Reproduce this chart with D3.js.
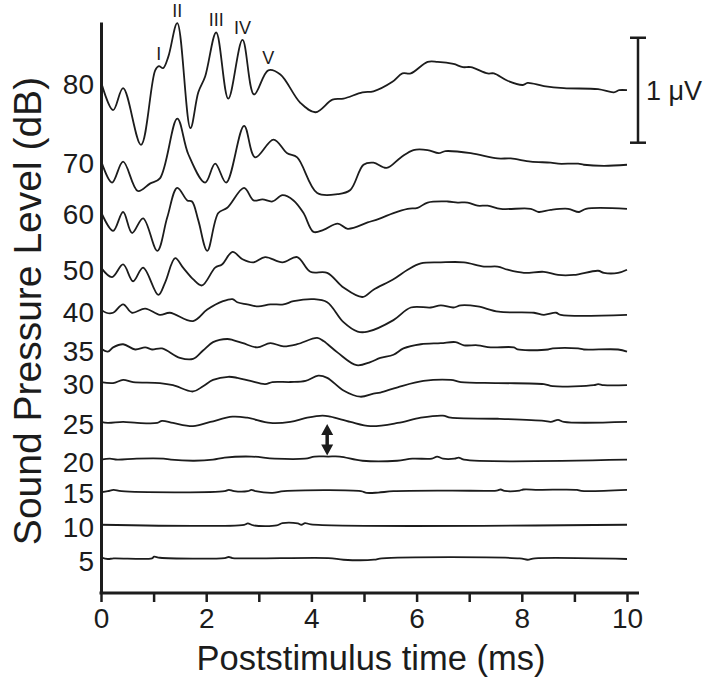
<!DOCTYPE html>
<html>
<head>
<meta charset="utf-8">
<script src="https://cdn.jsdelivr.net/npm/d3@7"></script>
<style>
  body { margin: 0; background: #fff; }
  svg { display: block; font-family: "Liberation Sans", Arial, Helvetica, sans-serif; }
</style>
</head>
<body>
<svg width="709" height="684"></svg>
<script>
// sound levels (dB) top to bottom, and where each trace sits (uV above the axis)
var levels = [80, 70, 60, 50, 40, 35, 30, 25, 20, 15, 10, 5];
var offsets = [4.87, 4.12, 3.63, 3.10, 2.70, 2.33, 2.01, 1.63, 1.27, 0.97, 0.65, 0.33];

var xTicks = [0, 1, 2, 3, 4, 5, 6, 7, 8, 9, 10];
var peakNames = ["I", "II", "III", "IV", "V"];
var peakTimes = [1.10, 1.45, 2.19, 2.69, 3.18];

// [time ms, amplitude uV]
var wave80 = [[0,0],[0.23,-0.27],[0.42,-0.06],[0.76,-0.60],[1.03,0.11],[1.10,0.15],[1.18,0.13],[1.28,0.24],[1.45,0.56],[1.70,-0.44],[1.85,-0.10],[1.98,0.05],[2.19,0.47],[2.42,-0.16],[2.69,0.40],[2.91,-0.12],[3.18,0.11],[3.41,0.07],[3.79,-0.20],[4.08,-0.29],[4.40,-0.17],[4.61,-0.16],[4.97,-0.10],[5.18,-0.09],[5.54,0],[5.73,0.08],[5.89,0.08],[6.21,0.19],[6.40,0.19],[6.70,0.17],[6.88,0.14],[7.03,0.14],[7.35,0.08],[7.47,0.08],[7.73,0.01],[8.02,-0.03],[8.11,-0.01],[8.42,-0.04],[8.80,-0.06],[9.45,-0.07],[9.75,-0.10],[9.85,-0.08],[10,-0.08]];
var wave70 = [[0,0],[0.21,-0.21],[0.42,-0.01],[0.70,-0.29],[0.93,-0.22],[1.12,-0.17],[1.45,0.40],[1.66,0.06],[1.98,-0.21],[2.17,-0.03],[2.38,-0.21],[2.72,0.33],[2.93,0.03],[3.28,0.20],[3.54,0.07],[3.73,0.03],[4.11,-0.31],[4.50,-0.32],[4.74,-0.28],[4.99,-0.04],[5.18,-0.02],[5.43,-0.07],[5.70,0.03],[5.94,0.10],[6.21,0.10],[6.42,0.07],[6.55,0.09],[7.03,0.07],[7.54,0.02],[7.79,0.02],[8.17,-0.01],[8.55,-0.02],[8.69,-0.03],[9.07,-0.03],[9.18,-0.04],[9.56,-0.05],[10,-0.04]];
var wave60 = [[0,0],[0.23,-0.18],[0.42,0],[0.59,-0.20],[0.80,-0.06],[1.07,-0.37],[1.26,-0.05],[1.45,0.23],[1.64,0.11],[1.73,0.10],[1.85,-0.08],[2.02,-0.37],[2.23,-0.01],[2.40,0.04],[2.72,0.23],[2.90,0.11],[3.07,0.12],[3.26,0.10],[3.45,0.16],[3.66,0.11],[3.85,-0.01],[4.04,-0.19],[4.23,-0.17],[4.50,-0.11],[4.69,-0.16],[5.07,-0.10],[5.31,-0.06],[5.56,-0.01],[5.83,0.03],[6.02,0.04],[6.21,0.09],[6.59,0.10],[6.78,0.09],[6.97,0.09],[7.16,0.06],[7.35,0.06],[7.60,0.03],[8.17,0.03],[8.32,0],[8.55,0.02],[8.88,0.03],[9.09,0],[9.22,0.03],[10,0.03]];
var wave50 = [[0,0],[0.21,-0.09],[0.42,0.03],[0.61,-0.13],[0.80,0],[1.09,-0.26],[1.22,-0.14],[1.41,0.09],[1.56,0],[1.75,-0.11],[1.92,-0.17],[2.17,0],[2.30,0.03],[2.50,0.15],[2.69,0.08],[2.90,0.05],[3.12,0.10],[3.45,0.05],[3.73,0.10],[3.98,-0.04],[4.30,-0.05],[4.61,-0.19],[4.97,-0.28],[5.18,-0.21],[5.56,-0.11],[5.83,-0.02],[6.08,0.04],[6.46,0.05],[6.90,0.05],[7.28,0.01],[7.54,0.01],[7.73,-0.02],[8.04,-0.05],[8.42,-0.04],[8.69,-0.07],[8.99,-0.07],[9.45,-0.03],[9.56,-0.05],[9.83,-0.05],[10,-0.02]];
var wave40 = [[0,0],[0.10,-0.03],[0.23,-0.03],[0.42,0.05],[0.59,-0.03],[0.84,0.01],[1.12,-0.05],[1.31,-0.03],[1.75,-0.11],[2.02,0],[2.32,0.08],[2.50,0.10],[2.59,0.07],[2.78,0.05],[2.99,0.03],[3.22,0.05],[3.47,0.05],[3.66,0.08],[4.04,0.10],[4.30,0.07],[4.61,-0.12],[4.88,-0.21],[5.07,-0.21],[5.56,-0.10],[5.89,0.02],[6.27,0.02],[6.46,0.04],[6.70,0.02],[6.84,0.04],[7.16,0.03],[7.56,-0.02],[8.23,-0.03],[8.42,-0.05],[8.65,-0.03],[8.74,-0.05],[10,-0.05]];
var wave35 = [[0,0],[0.13,-0.03],[0.23,0.01],[0.42,0.04],[0.65,-0.01],[0.84,0.01],[0.97,-0.01],[1.16,0],[1.50,-0.09],[1.75,-0.10],[1.94,-0.02],[2.13,0.06],[2.40,0.09],[2.51,0.08],[2.70,0.05],[2.97,0.01],[3.22,0.05],[3.47,0.02],[3.73,0.04],[4.11,0.10],[4.23,0.07],[4.50,-0.04],[4.86,-0.16],[5.12,-0.13],[5.31,-0.09],[5.56,-0.06],[5.75,0],[6.08,0.04],[6.46,0.05],[6.74,0.06],[6.90,0.03],[7.16,0.03],[7.41,0.01],[7.85,0.01],[7.92,-0.01],[8.50,-0.01],[8.59,0],[9.07,0],[9.18,-0.01],[9.83,-0.01],[10,-0.03]];
var wave30 = [[0,0],[0.23,-0.01],[0.42,0.02],[0.61,0],[1.12,-0.01],[1.37,-0.03],[1.75,-0.09],[1.94,-0.04],[2.13,0.02],[2.42,0.05],[2.59,0.04],[2.84,0.01],[3.12,-0.02],[3.26,0],[3.60,0],[3.89,0.01],[4.13,0.06],[4.30,0.04],[4.61,-0.08],[4.93,-0.14],[5.18,-0.11],[5.31,-0.10],[5.64,-0.05],[6.13,0.01],[6.65,0.02],[6.84,0],[7.54,-0.01],[8.42,-0.02],[8.59,-0.04],[9.37,-0.03],[9.45,-0.02],[9.56,-0.03],[10,-0.03]];
var wave25 = [[0,0],[0.13,-0.01],[0.42,0],[0.69,-0.01],[1.07,-0.01],[1.16,0.01],[1.37,-0.01],[1.75,-0.04],[2.08,0],[2.50,0.05],[2.78,0.04],[3.22,-0.01],[3.60,0],[3.92,0.04],[4.21,0.06],[4.36,0.05],[4.74,0],[5.12,-0.04],[5.64,-0.01],[6.08,0.04],[6.50,0.06],[6.65,0.04],[7.54,0.03],[8.42,0.01],[8.55,0],[8.69,0.02],[8.80,0],[10,0]];
var wave20 = [[0,0],[0.17,0.01],[0.31,0],[0.68,0.01],[1.19,0.01],[1.33,0],[1.77,-0.01],[2.13,0],[2.35,0.02],[2.86,0.03],[3.30,0.01],[3.88,0.01],[4.06,0.03],[4.32,0.03],[4.54,0.03],[4.97,-0.01],[5.63,-0.01],[5.92,0.01],[6.29,0.01],[6.39,0.03],[6.50,0.01],[6.72,0.01],[6.80,0.02],[6.90,0],[10,0]];
var wave15 = [[0,-0.01],[0.13,0],[0.24,0.013],[0.39,0],[2.35,0],[2.43,0.013],[2.53,0],[2.79,0],[2.86,0.013],[2.94,0],[3.26,-0.016],[3.48,0],[4.94,0],[5.05,-0.016],[5.27,-0.013],[5.56,0],[6.65,0.006],[7.52,0.006],[7.60,0.016],[7.67,0.003],[7.96,0.006],[8.03,0.016],[8.32,0.013],[9.05,0.013],[9.13,0.003],[10,0.013]];
var wave10 = [[0,0],[2.72,0],[2.79,0.013],[2.90,-0.006],[3.34,-0.006],[3.45,0.016],[3.74,0.013],[3.81,0],[3.88,0.016],[3.99,0.003],[10,0]];
var wave5 = [[0,0.01],[0.13,-0.006],[0.24,0],[0.97,0],[1.01,0.016],[1.12,0.006],[2.35,0.003],[2.43,0.013],[2.50,0.003],[4.32,0.003],[4.61,-0.013],[5.19,-0.013],[5.34,0],[7.96,0],[8.11,-0.013],[8.25,0],[10,-0.006]];

var waves = [wave80, wave70, wave60, wave50, wave40, wave35, wave30, wave25, wave20, wave15, wave10, wave5];

// 1 uV scale bar, and the threshold arrow between 25 and 20 dB
var scaleBarBase = 4.29;
var arrowTime = 4.3;
var arrowTop = 1.61, arrowBottom = 1.31;

var svg = d3.select("svg");
var ink = "#1c1c1c";

var x = d3.scaleLinear().domain([0, 10]).range([101, 627]);
var y = d3.scaleLinear().domain([0, 5.44]).range([593, 22]);

var g = svg.append("g");

// traces
var line = d3.line()
    .x(function (d) { return x(d[0]); })
    .y(function (d) { return y(d[1] + d.off); })
    .curve(d3.curveCatmullRom.alpha(0.5));

waves.forEach(function (w, i) {
  var pts = w.map(function (p) { var q = [p[0], p[1]]; q.off = offsets[i]; return q; });
  g.append("path")
      .datum(pts)
      .attr("fill", "none")
      .attr("stroke", ink)
      .attr("stroke-width", 1.8)
      .attr("stroke-linejoin", "round")
      .attr("d", line);
});

// x axis
var xAxis = g.append("g")
    .attr("transform", "translate(0," + y(0) + ")")
    .call(d3.axisBottom(x).tickValues(xTicks).tickSize(9).tickSizeOuter(0).tickPadding(6)
      .tickFormat(function (d) { return d % 2 === 0 ? d : ""; }));
xAxis.select(".domain").remove();
xAxis.selectAll(".tick line").attr("stroke", ink).attr("stroke-width", 2.5);
xAxis.selectAll(".tick text").attr("fill", ink).style("font-size", "28px").style("font-family", "inherit");
xAxis.append("line")
    .attr("x1", x(0) - 1.5).attr("x2", x(10) + 12)
    .attr("stroke", ink).attr("stroke-width", 3);

// y axis, labelled with the dB levels at each trace
var yAxis = g.append("g")
    .attr("transform", "translate(" + x(0) + ",0)")
    .call(d3.axisLeft(y).tickValues(offsets).tickSize(0).tickSizeOuter(0).tickPadding(7)
      .tickFormat(function (d, i) { return levels[i]; }));
yAxis.select(".domain").attr("stroke", ink).attr("stroke-width", 3);
yAxis.selectAll(".tick text")
    .attr("fill", ink)
    .attr("dy", "0.42em")
    .style("font-size", "28px").style("font-family", "inherit");

// titles
g.append("text")
    .attr("x", 371).attr("y", 670)
    .attr("text-anchor", "middle")
    .attr("fill", ink)
    .style("font-size", "34.5px")
    .text("Poststimulus time (ms)");

g.append("text")
    .attr("transform", "translate(41," + 311 + ") rotate(-90)")
    .attr("text-anchor", "middle")
    .attr("fill", ink)
    .style("font-size", "39px")
    .text("Sound Pressure Level (dB)");

// peak labels over the 80 dB trace
peakNames.forEach(function (name, i) {
  var t = peakTimes[i];
  var p = wave80.find(function (d) { return d[0] === t; });
  g.append("text")
      .attr("x", x(t))
      .attr("y", y(offsets[0] + p[1]) - 6)
      .attr("text-anchor", "middle")
      .attr("fill", ink)
      .style("font-size", "18px")
      .text(name);
});

// scale bar
var bx = x(10) + 11;
g.append("line")
    .attr("x1", bx).attr("x2", bx)
    .attr("y1", y(scaleBarBase)).attr("y2", y(scaleBarBase + 1))
    .attr("stroke", ink).attr("stroke-width", 2.5);
[scaleBarBase, scaleBarBase + 1].forEach(function (v) {
  g.append("line")
      .attr("x1", bx - 8).attr("x2", bx + 8)
      .attr("y1", y(v)).attr("y2", y(v))
      .attr("stroke", ink).attr("stroke-width", 2.5);
});
g.append("text")
    .attr("x", bx + 8).attr("y", y(scaleBarBase + 0.5))
    .attr("dy", "0.36em")
    .attr("fill", ink)
    .style("font-size", "27px")
    .text("1 \u03bcV");

// double headed arrow
var ax = x(arrowTime), at = y(arrowTop), ab = y(arrowBottom);
g.append("line")
    .attr("x1", ax).attr("x2", ax)
    .attr("y1", at + 6).attr("y2", ab - 6)
    .attr("stroke", ink).attr("stroke-width", 3.5);
g.append("path")
    .attr("fill", ink)
    .attr("d", "M" + ax + "," + at + "L" + (ax - 6) + "," + (at + 11) + "L" + (ax + 6) + "," + (at + 11) + "Z" +
               "M" + ax + "," + ab + "L" + (ax - 6) + "," + (ab - 11) + "L" + (ax + 6) + "," + (ab - 11) + "Z");
</script>
</body>
</html>
